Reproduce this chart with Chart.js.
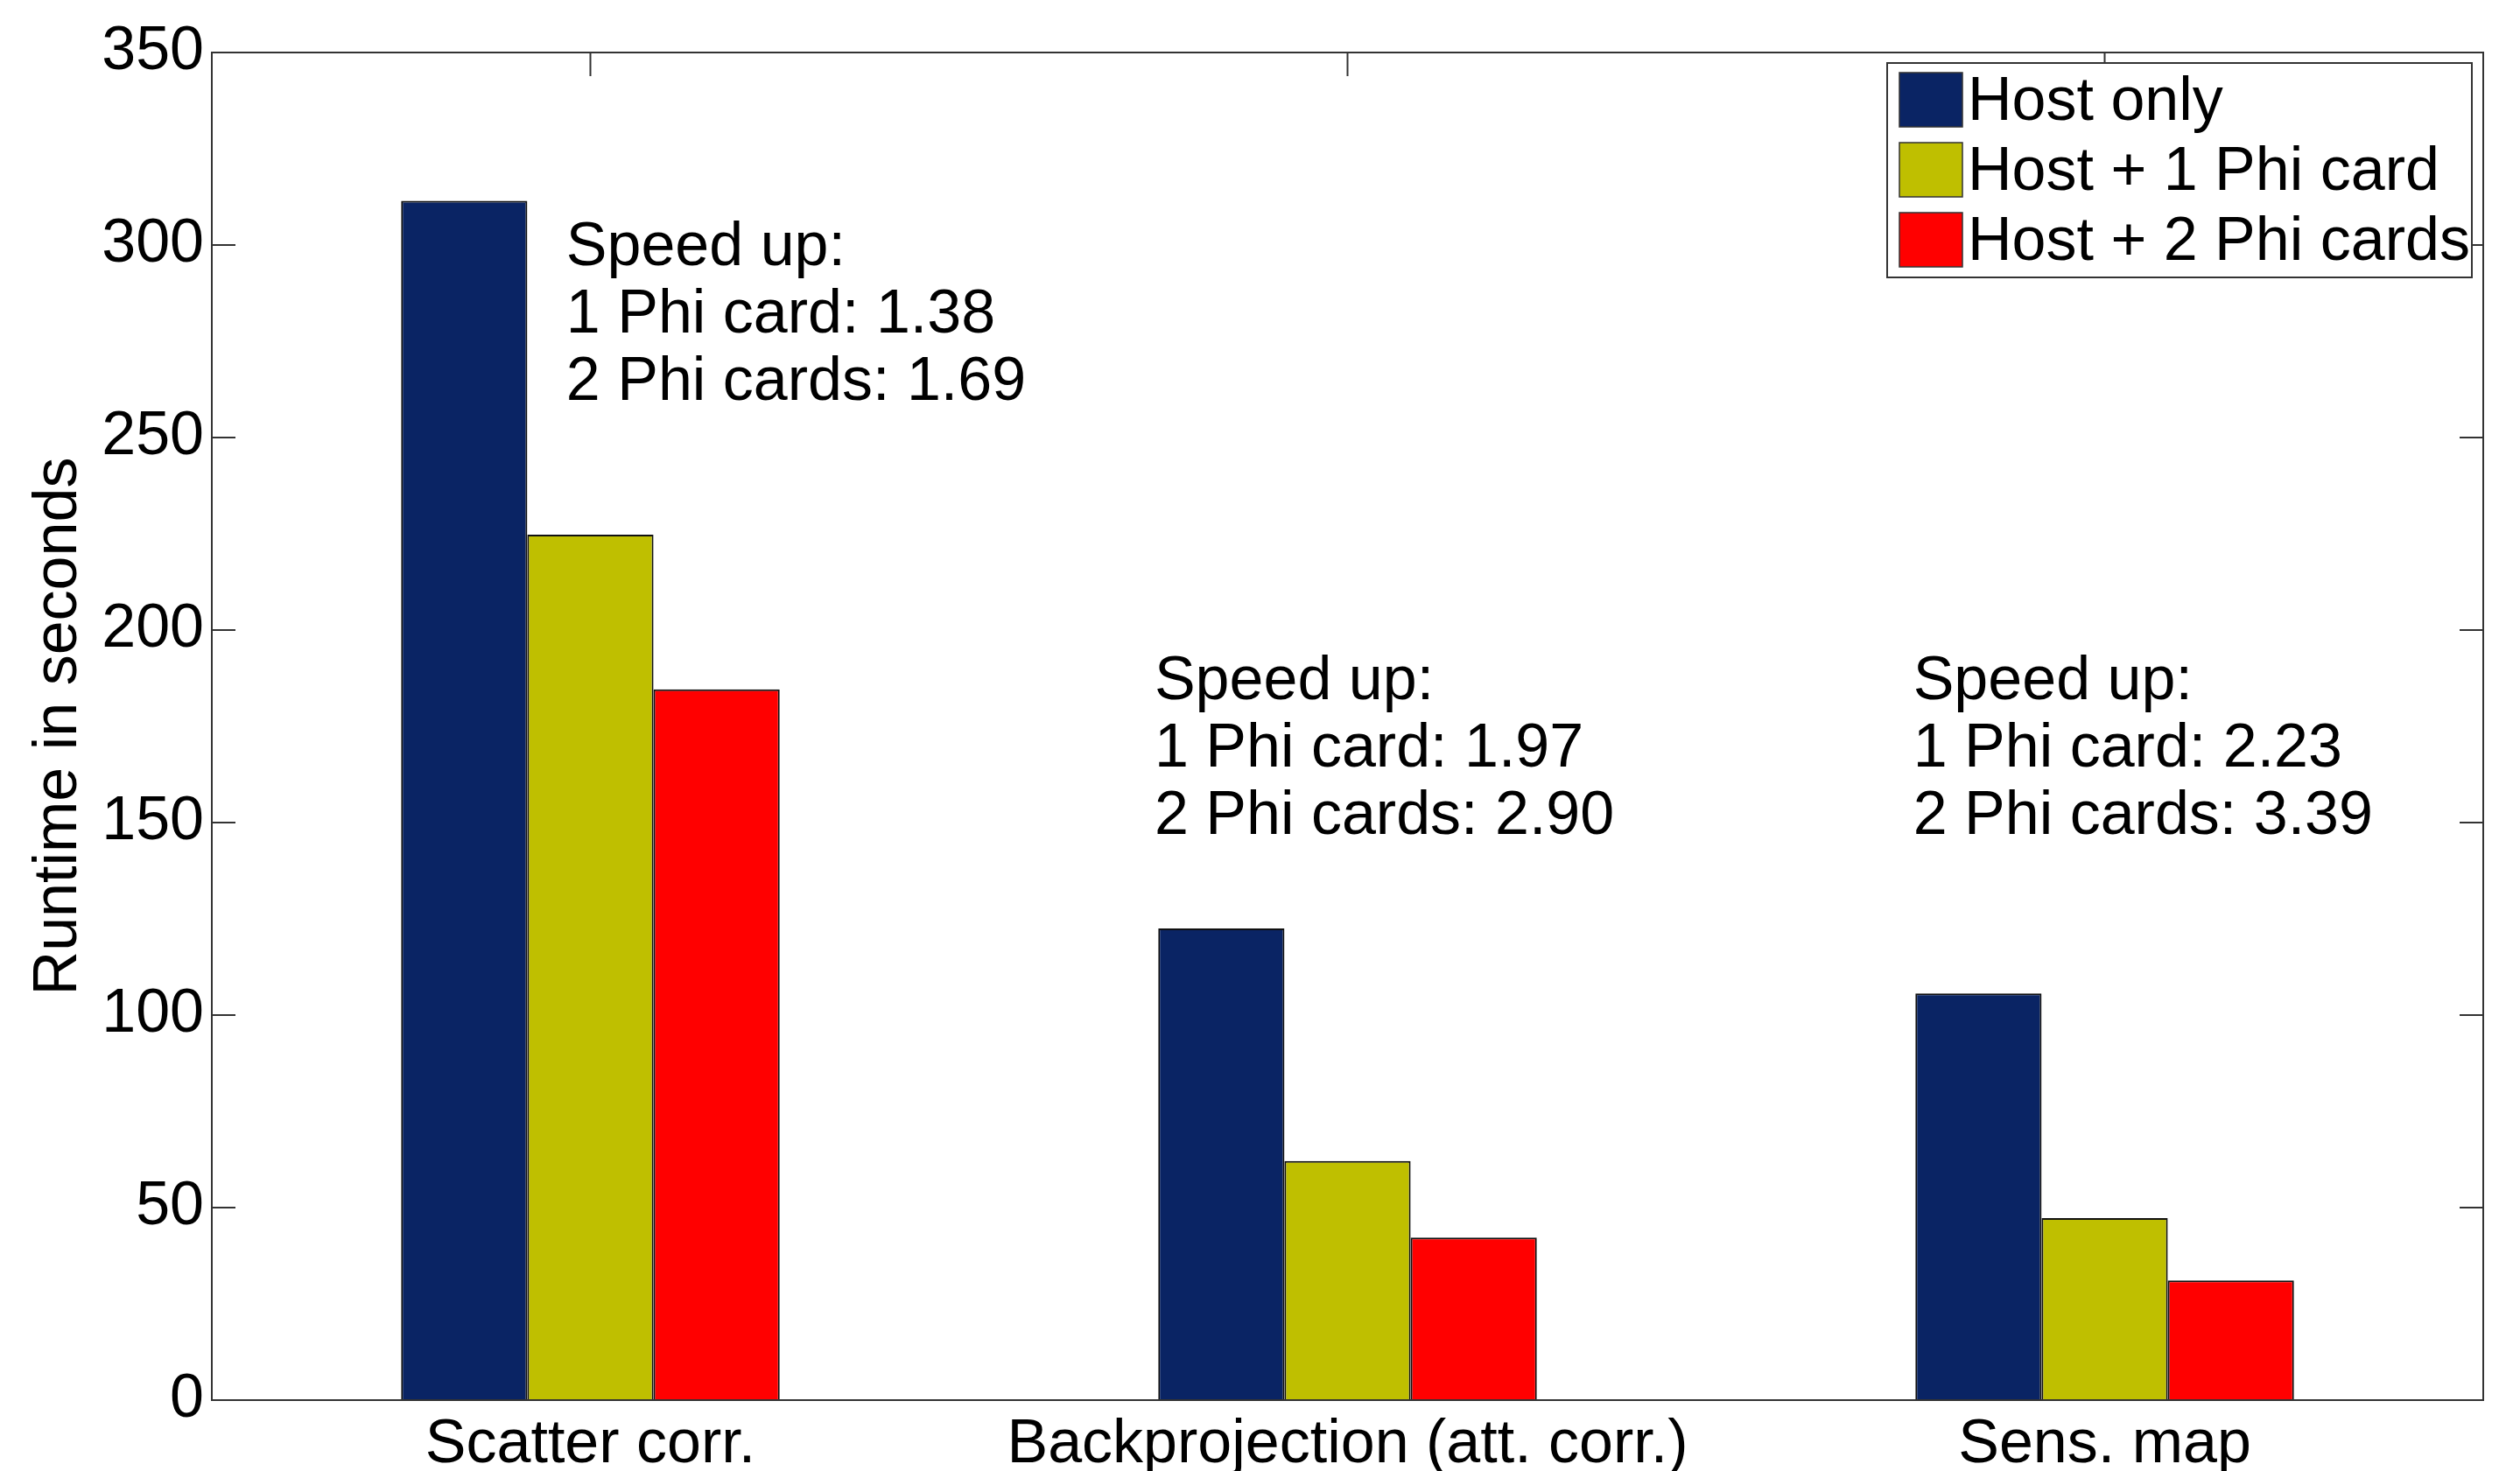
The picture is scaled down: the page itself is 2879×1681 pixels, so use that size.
<!DOCTYPE html>
<html>
<head>
<meta charset="utf-8">
<script src="https://cdn.jsdelivr.net/npm/chart.js@4.4.1/dist/chart.umd.min.js"></script>
<style>
    html, body { margin: 0; padding: 0; background: #fff; }
    #wrap { width: 2879px; height: 1681px; }
</style>
</head>
<body>
<div id="wrap"><canvas id="barChart1"></canvas></div>
<script>
/* data */
const categories = ['Scatter corr.', 'Backprojection (att. corr.)', 'Sens. map'];
const seriesNames = ['Host only', 'Host + 1 Phi card', 'Host + 2 Phi cards'];
const hostOnly = [311.5, 122.5, 105.6];
const host1Phi = [224.8, 62.1, 47.3];
const host2Phi = [184.6, 42.2, 31.1];
const speedup1 = ['1.38', '1.97', '2.23'];
const speedup2 = ['1.69', '2.90', '3.39'];
const yTicks = [0, 50, 100, 150, 200, 250, 300, 350];

const colors = ['#0a2464', '#bfbf00', '#ff0000'];
const FONT = "'Liberation Sans', Arial, sans-serif";
const FS = 70;

/* frame, inward ticks, speed-up notes and legend box */
const frame = {
    id: 'frame',
    beforeDatasetsDraw(chart) {
        const {ctx, chartArea: a, scales: {x, y}} = chart;
        ctx.save();
        ctx.strokeStyle = '#333';
        ctx.lineWidth = 2;
        ctx.strokeRect(a.left, a.top, a.right - a.left, a.bottom - a.top);
        ctx.beginPath();
        yTicks.forEach(v => {
            const py = y.getPixelForValue(v);
            ctx.moveTo(a.left, py); ctx.lineTo(a.left + 27, py);
            ctx.moveTo(a.right, py); ctx.lineTo(a.right - 27, py);
        });
        categories.forEach((c, i) => {
            const px = x.getPixelForValue(i);
            ctx.moveTo(px, a.top); ctx.lineTo(px, a.top + 27);
            ctx.moveTo(px, a.bottom); ctx.lineTo(px, a.bottom - 27);
        });
        ctx.stroke();
        ctx.restore();
    },
    afterDatasetsDraw(chart) {
        const {ctx, chartArea: a, scales: {x, y}} = chart;
        ctx.save();
        // bottom axis line over the bars
        ctx.strokeStyle = '#333';
        ctx.lineWidth = 2;
        ctx.beginPath();
        ctx.moveTo(a.left, a.bottom); ctx.lineTo(a.right, a.bottom);
        ctx.stroke();

        // speed-up notes
        const catW = (a.right - a.left) / categories.length;
        const dx = [-0.032, -0.255, -0.253];
        const baseVal = [294.8, 182, 182];
        ctx.fillStyle = '#000';
        ctx.font = FS + 'px ' + FONT;
        ctx.textAlign = 'left';
        ctx.textBaseline = 'alphabetic';
        categories.forEach((c, i) => {
            const px = x.getPixelForValue(i) + dx[i] * catW;
            const py = y.getPixelForValue(baseVal[i]);
            const lines = ['Speed up:', '1 Phi card: ' + speedup1[i], '2 Phi cards: ' + speedup2[i]];
            lines.forEach((t, k) => ctx.fillText(t, px, py + k * 77));
        });

        // legend
        const bw = 668, bh = 245;
        const bx = a.right - 13 - bw, by = a.top + 12;
        ctx.fillStyle = '#fff';
        ctx.fillRect(bx, by, bw, bh);
        ctx.strokeStyle = '#333';
        ctx.lineWidth = 2;
        ctx.strokeRect(bx, by, bw, bh);
        ctx.textBaseline = 'middle';
        chart.data.datasets.forEach((ds, k) => {
            const cy = by + 42 + k * 80;
            ctx.fillStyle = ds.backgroundColor;
            ctx.fillRect(bx + 14, cy - 31, 72, 62);
            ctx.strokeStyle = '#333';
            ctx.lineWidth = 1.5;
            ctx.strokeRect(bx + 14, cy - 31, 72, 62);
            ctx.fillStyle = '#000';
            ctx.fillText(ds.label, bx + 92, cy + 4);
        });
        ctx.restore();
    }
};

const barChart1 = document.getElementById('barChart1').getContext('2d');
const myChart1 = new Chart(barChart1, {
    type: 'bar',
    data: {
        labels: categories,
        datasets: [hostOnly, host1Phi, host2Phi].map((d, i) => ({
            label: seriesNames[i],
            data: d,
            backgroundColor: colors[i],
            borderColor: '#111',
            borderWidth: 2,
            barPercentage: 1,
            categoryPercentage: 0.5
        }))
    },
    options: {
        responsive: true,
        maintainAspectRatio: false,
        animation: false,
        layout: {
            padding: {top: 60, right: 42, left: 0, bottom: 0}
        },
        plugins: {
            legend: {display: false},
            tooltip: {enabled: false}
        },
        scales: {
            x: {
                grid: {display: false, drawTicks: false},
                border: {display: false},
                ticks: {
                    color: '#000',
                    font: {family: FONT, size: FS},
                    padding: 10,
                    maxRotation: 0
                },
                afterFit: s => { s.height = 81; }
            },
            y: {
                min: 0,
                max: 350,
                grid: {display: false, drawTicks: false},
                border: {display: false},
                afterBuildTicks: s => { s.ticks = yTicks.map(v => ({value: v})); },
                ticks: {
                    color: '#000',
                    font: {family: FONT, size: FS},
                    padding: 9
                },
                title: {
                    display: true,
                    text: 'Runtime in seconds',
                    color: '#000',
                    font: {family: FONT, size: FS},
                    padding: {top: 26, bottom: 0}
                },
                afterFit: s => { s.width = 242; }
            }
        }
    },
    plugins: [frame]
});
</script>
</body>
</html>
